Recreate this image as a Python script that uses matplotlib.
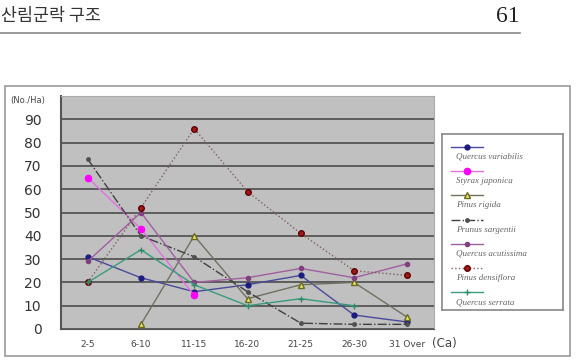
import numpy as np
import matplotlib
matplotlib.use("Agg")
import matplotlib.pyplot as plt
from matplotlib.patches import Rectangle
from matplotlib.lines import Line2D

# data
classes = ["2-5", "6-10", "11-15", "16-20", "21-25", "26-30", "31 Over"]
nan = np.nan
quercus_variabilis = [31, 22, 16, 19, 23, 6, 3]
styrax_japonica = [65, 43, 14.5, nan, nan, nan, nan]
pinus_rigida = [nan, 2, 40, 13, 19, 20, 5]
prunus_sargentii = [73, 40, 31, 16, 2.5, 2, 2]
quercus_acutissima = [29, 50, 20, 22, 26, 22, 28]
pinus_densiflora = [20, 52, 86, 59, 41, 25, 23]
quercus_serrata = [20, 34, 19, 10, 13, 10, nan]

names = ["Quercus variabilis", "Styrax japonica", "Pinus rigida", "Prunus sargentii",
         "Quercus acutissima", "Pinus densiflora", "Quercus serrata"]
series = [quercus_variabilis, styrax_japonica, pinus_rigida, prunus_sargentii,
          quercus_acutissima, pinus_densiflora, quercus_serrata]
styles = [
    dict(color="#4a4a9a", ls="-", marker="o", mfc="#1c1c80", mec="#1c1c80", ms=3.5),
    dict(color="#e070e0", ls="-", marker="o", mfc="#ff00ff", mec="#ff00ff", ms=4.5),
    dict(color="#707060", ls="-", marker="^", mfc="#e8e860", mec="#6a6a20", ms=4.5),
    dict(color="#404040", ls="-.", marker="o", mfc="#505050", mec="#505050", ms=2.5),
    dict(color="#a060a0", ls="-", marker="o", mfc="#804080", mec="#804080", ms=3),
    dict(color="#806060", ls=":", marker="o", mfc="#a01818", mec="#600000", ms=4),
    dict(color="#3a9a80", ls="-", marker="+", mfc="#2e8b6a", mec="#2e8b6a", ms=4),
]

W, H = 581, 360
fig = plt.figure(figsize=(W / 100, H / 100), dpi=100)
fig.patch.set_facecolor("white")


def fx(px):
    return px / W


def fy(py):
    return 1 - py / H


# page header
fig.text(fx(1), fy(16), "산림군락 구조", fontsize=12.5, color="#333333",
         family=["Noto Sans CJK KR", "DejaVu Sans"], va="center", ha="left")
fig.text(fx(520), fy(16), "61", fontsize=17, color="#222222",
         family="Liberation Serif", va="center", ha="right")
fig.add_artist(Line2D([fx(0), fx(520)], [fy(33), fy(33)], color="#888888", lw=1.2))

# chart frame
fig.add_artist(Rectangle((fx(5), fy(356)), fx(570) - fx(5), fy(86) - fy(356),
                         fill=False, ec="#999999", lw=1.2))

ax = fig.add_axes([fx(61), fy(329), fx(434) - fx(61), fy(96) - fy(329)])
ax.set_facecolor("#c0c0c0")
x = np.arange(len(classes))
for vals, st in zip(series, styles):
    ax.plot(x, vals, lw=1.0, **st)

ax.set_xlim(-0.5, len(classes) - 0.5)
ax.set_ylim(0, 100)
ax.set_yticks(range(0, 100, 10))
ax.set_xticks(x)
ax.set_xticklabels(classes, fontsize=6.5, color="#444444")
ax.tick_params(axis="y", length=0, pad=14, labelsize=10, labelcolor="#333333")
ax.tick_params(axis="x", length=0, pad=8)
ax.grid(axis="y", color="#555555", lw=1.3)
ax.set_axisbelow(True)
for s in ["top", "right"]:
    ax.spines[s].set_color("#aaaaaa")
ax.spines["left"].set_color("#555555")
ax.spines["bottom"].set_color("#555555")
ax.spines["left"].set_linewidth(1.5)

fig.text(fx(10), fy(100), "(No./Ha)", fontsize=6, color="#444444", va="center", ha="left")
fig.text(fx(432), fy(344), "(Ca)", fontsize=8.5, color="#444444", va="center", ha="left")

# legend box drawn as its own axes, handle line above each italic name
lg = fig.add_axes([fx(442), fy(310), fx(563) - fx(442), fy(134) - fy(310)])
lg.set_xlim(442, 563)
lg.set_ylim(310, 134)
lg.set_xticks([])
lg.set_yticks([])
for s in lg.spines.values():
    s.set_color("#888888")
    s.set_linewidth(1.2)
for i, (name, st) in enumerate(zip(names, styles)):
    yh = 147 + i * 24.2
    lg.plot([451, 483], [yh, yh], lw=1.0, color=st["color"], ls=st["ls"])
    lg.plot([467], [yh], ls="none", marker=st["marker"], mfc=st["mfc"], mec=st["mec"], ms=st["ms"])
    lg.text(456, yh + 10, name, fontsize=6.5, style="italic", color="#666666",
            family="Liberation Serif", va="center", ha="left")

fig.savefig("out.png", dpi=100)
